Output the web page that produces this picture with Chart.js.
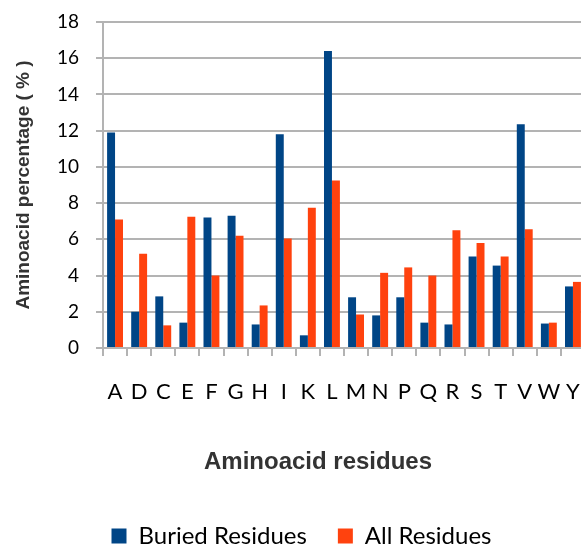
<!DOCTYPE html>
<html>
<head>
<meta charset="utf-8">
<script src="https://cdn.jsdelivr.net/npm/chart.js@4"></script>
<style>
html, body { margin:0; padding:0; overflow:hidden; background:#fff; }
#wrap { width:590px; height:558px; position:relative; }
</style>
</head>
<body>
<div id="wrap"><canvas id="c" width="590" height="558"></canvas></div>
<script>
const categories = ['A','D','C','E','F','G','H','I','K','L','M','N','P','Q','R','S','T','V','W','Y'];
const buriedResidues = [11.9, 2.0, 2.85, 1.4, 7.2, 7.3, 1.3, 11.8, 0.7, 16.4, 2.8, 1.8, 2.8, 1.4, 1.3, 5.05, 4.55, 12.35, 1.35, 3.4];
const allResidues = [7.1, 5.2, 1.25, 7.25, 4.0, 6.2, 2.35, 6.05, 7.75, 9.25, 1.85, 4.15, 4.45, 4.0, 6.5, 5.8, 5.05, 6.55, 1.4, 3.65];
const seriesNames = ['Buried Residues', 'All Residues'];
const yTitle = 'Aminoacid percentage ( % )';
const xTitle = 'Aminoacid residues';

const GRID = '#b3b3b3';

const xTitlePlugin = {
  id: 'xTitle',
  afterDraw(chart) {
    const ctx = chart.ctx;
    ctx.save();
    ctx.font = 'bold 24px "Liberation Sans", Arial, sans-serif';
    ctx.fillStyle = '#333333';
    ctx.textAlign = 'center';
    ctx.textBaseline = 'middle';
    ctx.fillText(xTitle, 318, 462);
    ctx.restore();
  }
};

new Chart(document.getElementById('c'), {
  type: 'bar',
  data: {
    labels: categories,
    datasets: [
      { label: seriesNames[0], data: buriedResidues, backgroundColor: '#004586', borderWidth: 0 },
      { label: seriesNames[1], data: allResidues, backgroundColor: '#ff420e', borderWidth: 0 }
    ]
  },
  options: {
    responsive: false,
    animation: false,
    datasets: { bar: { categoryPercentage: 0.66, barPercentage: 1.0 } },
    layout: { padding: { left: 18, top: 22, right: 5, bottom: 0 } },
    plugins: {
      tooltip: { enabled: false },
      legend: {
        position: 'bottom',
        labels: {
          boxWidth: 15, boxHeight: 15, padding: 31,
          color: '#000',
          font: { family: 'Lato', size: 24 }
        }
      }
    },
    scales: {
      x: {
        grid: { drawOnChartArea: false, drawTicks: true, tickLength: 8, color: GRID, lineWidth: 2, offset: true },
        border: { color: GRID, width: 2 },
        ticks: { color: '#000', padding: 3, font: { family: 'Lato', size: 22, lineHeight: '66px' }, maxRotation: 0, autoSkip: false },
        afterFit(s) { s.height = 145; s.paddingLeft = 0; s.paddingRight = 0; }
      },
      y: {
        min: 0, max: 18,
        grid: { color: GRID, lineWidth: 2, tickLength: 7 },
        border: { color: GRID, width: 2 },
        ticks: { stepSize: 2, color: '#000', padding: 17, font: { family: 'Lato', size: 19 } },
        title: { display: true, text: yTitle, color: '#333333', font: { family: '"Liberation Sans", Arial, sans-serif', size: 19, weight: 'bold', lineHeight: 1 }, padding: { top: -4, bottom: 0 } },
        afterFit(s) { s.width = 85; s.paddingTop = 0; s.paddingBottom = 0; }
      }
    }
  },
  plugins: [xTitlePlugin]
});
</script>
</body>
</html>
